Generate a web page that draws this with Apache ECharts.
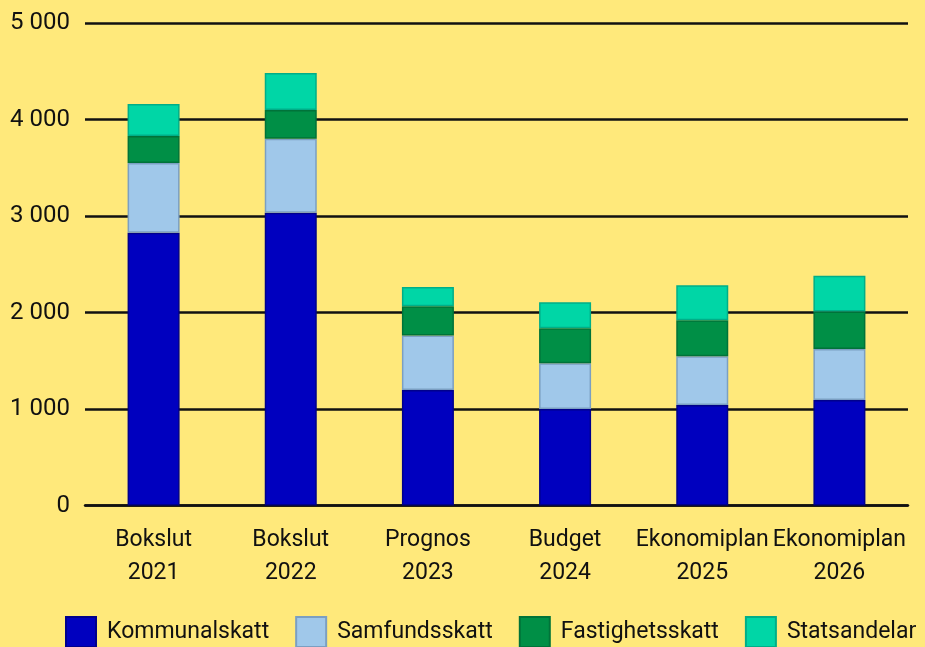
<!DOCTYPE html>
<html>
<head>
<meta charset="utf-8">
<script src="https://cdn.jsdelivr.net/npm/echarts@6/dist/echarts.min.js"></script>
<style>
  html, body { margin: 0; padding: 0; background: #FFE97B; }
  #chart { width: 925px; height: 647px; }
</style>
</head>
<body>
<div id="chart"></div>
<script>
var categories = ['Bokslut\n2021', 'Bokslut\n2022', 'Prognos\n2023', 'Budget\n2024', 'Ekonomiplan\n2025', 'Ekonomiplan\n2026'];
var kommunalskatt = [2826, 3033, 1198, 1001, 1042, 1094];
var samfundsskatt = [722, 767, 563, 473, 505, 529];
var fastighetsskatt = [280, 298, 305, 363, 373, 387];
var statsandelar = [332, 383, 197, 270, 363, 370];

var chart = echarts.init(document.getElementById('chart'));

function serie(name, data, color, border) {
    return {
        name: name,
        type: 'bar',
        stack: 'total',
        barWidth: 52,
        data: data,
        itemStyle: { color: color, borderColor: border, borderWidth: 1.5 }
    };
}

var option = {
    backgroundColor: '#FFE97B',
    textStyle: { fontFamily: 'Roboto', color: '#111' },
    animation: false,
    grid: { left: 85, right: 17, top: 23, bottom: 141.5 },
    legend: {
        left: 65,
        top: 616,
        padding: 0,
        icon: 'rect',
        itemWidth: 30,
        itemHeight: 30,
        itemGap: 26,
        textStyle: { fontSize: 23, color: '#111', padding: [0, 0, 0, 6] },
        data: ['Kommunalskatt', 'Samfundsskatt', 'Fastighetsskatt', 'Statsandelar']
    },
    xAxis: {
        type: 'category',
        data: categories,
        axisLine: { lineStyle: { color: '#111', width: 2.5 } },
        axisTick: { show: false },
        axisLabel: { interval: 0, fontSize: 23, color: '#111', lineHeight: 33, margin: 18 }
    },
    yAxis: {
        type: 'value',
        min: 0,
        max: 5000,
        interval: 1000,
        axisLine: { show: false },
        axisTick: { show: false },
        splitLine: { lineStyle: { color: '#111', width: 2.5 } },
        axisLabel: {
            fontSize: 24,
            color: '#111',
            margin: 15,
            formatter: function (v) { return String(v).replace(/\B(?=(\d{3})+(?!\d))/g, ' '); }
        }
    },
    series: [
        serie('Kommunalskatt', kommunalskatt, '#0000BF', '#00008C'),
        serie('Samfundsskatt', samfundsskatt, '#A0C8EA', '#7B9FC2'),
        serie('Fastighetsskatt', fastighetsskatt, '#008F46', '#007339'),
        serie('Statsandelar', statsandelar, '#00D6A6', '#00AE88')
    ]
};

chart.setOption(option);
</script>
</body>
</html>
